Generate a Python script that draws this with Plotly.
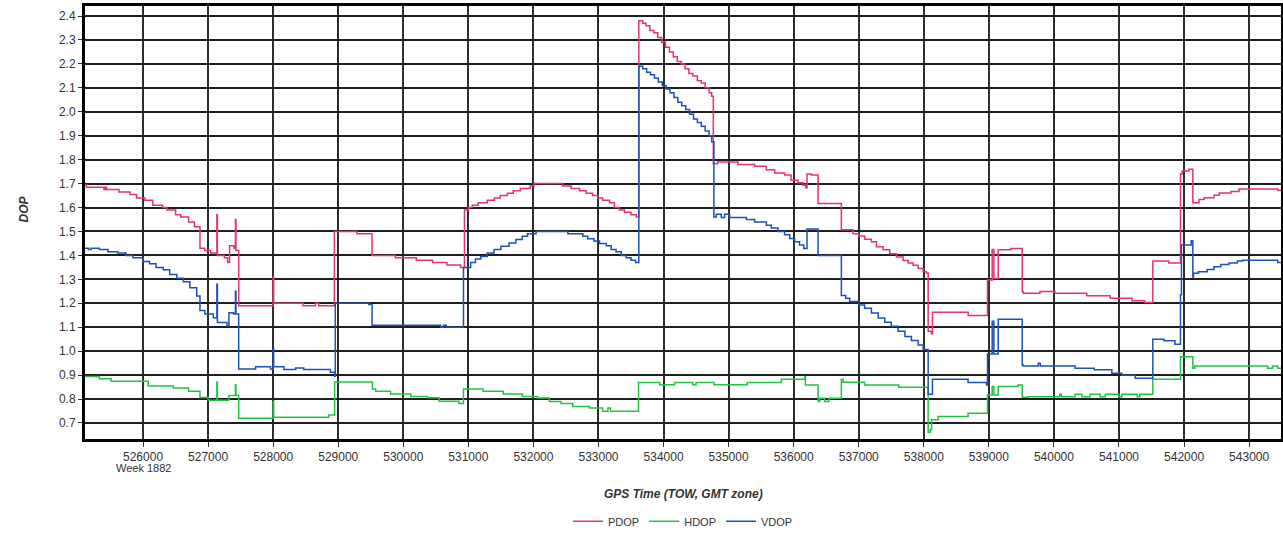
import plotly.graph_objects as go

# ---------------- data (GPS TOW seconds, DOP values; step series) ----------------
pdop_t = [525108, 525130, 525400, 525420, 525440, 525630, 525800, 525900, 526030, 526150,
          526300, 526370, 526500, 526580, 526700, 526790, 526875, 526950, 527040, 527135,
          527143, 527250, 527300, 527330, 527400, 527420, 527428, 527470, 528000, 528008,
          528460, 528650, 528700, 528940, 529290, 529520, 529880, 530200, 530450, 530670,
          530880, 530940, 531000, 531060, 531150, 531290, 531400, 531490, 531600, 531690,
          531800, 531950, 532010, 532450, 532580, 532710, 532810, 532910, 532990, 533065,
          533170, 533245, 533320, 533400, 533500, 533580, 533620, 533680, 533730, 533790,
          533850, 533910, 533970, 534030, 534090, 534150, 534210, 534270, 534330, 534390,
          534450, 534520, 534580, 534640, 534700, 534740, 534765, 534830, 535144, 535400,
          535580, 535708, 535860, 535960, 536067, 536144, 536185, 536205, 536272, 536375,
          536733, 536913, 537000, 537092, 537195, 537272, 537374, 537477, 537580, 537682,
          537760, 537836, 537913, 537990, 538040, 538067, 538118, 538133, 538682, 538979,
          539051, 539077, 539144, 539338, 539513, 539530, 539785, 540015, 540505, 540865,
          541200, 541395, 541520, 541765, 541945, 541970, 542075, 542135, 542230, 542310,
          542460, 542540, 542720, 542845, 543440, 543490]
pdop_v = [1.695, 1.685, 1.675, 1.685, 1.675, 1.665, 1.655, 1.64, 1.63, 1.61,
          1.60, 1.59, 1.57, 1.56, 1.54, 1.52, 1.43, 1.42, 1.41, 1.57,
          1.40, 1.39, 1.37, 1.44, 1.43, 1.55, 1.42, 1.19, 1.31, 1.20,
          1.19, 1.20, 1.19, 1.50, 1.49, 1.40, 1.39, 1.38, 1.37, 1.36,
          1.35, 1.59, 1.60, 1.61, 1.62, 1.63, 1.64, 1.65, 1.66, 1.67,
          1.68, 1.69, 1.70, 1.69, 1.68, 1.67, 1.66, 1.65, 1.64, 1.63,
          1.62, 1.60, 1.59, 1.58, 1.57, 1.56, 2.38, 2.37, 2.36, 2.34,
          2.33, 2.31, 2.29, 2.27, 2.25, 2.23, 2.21, 2.20, 2.18, 2.16,
          2.15, 2.13, 2.12, 2.10, 2.08, 2.065, 1.783, 1.79, 1.78, 1.772,
          1.758, 1.744, 1.736, 1.714, 1.704, 1.693, 1.683, 1.74, 1.736, 1.617,
          1.507, 1.49, 1.481, 1.467, 1.457, 1.436, 1.424, 1.407, 1.393, 1.379,
          1.368, 1.359, 1.345, 1.332, 1.327, 1.083, 1.073, 1.163, 1.149, 1.297,
          1.425, 1.304, 1.424, 1.429, 1.249, 1.242, 1.249, 1.242, 1.231, 1.221,
          1.211, 1.203, 1.377, 1.368, 1.74, 1.753, 1.76, 1.62, 1.634, 1.641,
          1.651, 1.661, 1.667, 1.677, 1.671, 1.671]

hdop_t = [525108, 525330, 525510, 526080, 526465, 526700, 526875, 527000, 527135, 527143,
          527320, 527420, 527428, 527470, 528000, 528008, 528855, 528945, 529525, 529575,
          529805, 530115, 530370, 530550, 530855, 530925, 531225, 531535, 531830, 532065,
          532245, 532425, 532605, 532860, 533065, 533145, 533185, 533615, 533940, 534170,
          534450, 534500, 534775, 535285, 535810, 536169, 536180, 536375, 536400, 536477,
          536540, 536733, 536760, 537090, 537615, 538067, 538100, 538120, 538220, 538680,
          538979, 539051, 539077, 539144, 539450, 539513, 539600, 540090, 540115, 540325,
          540430, 540555, 540710, 540790, 540995, 541045, 541280, 541320, 541520, 541945,
          542135, 542165, 543285, 543360, 543440, 543490]
hdop_v = [0.894, 0.885, 0.874, 0.854, 0.846, 0.833, 0.806, 0.795, 0.87, 0.795,
          0.815, 0.86, 0.815, 0.72, 0.79, 0.724, 0.733, 0.871, 0.842, 0.832,
          0.821, 0.811, 0.805, 0.791, 0.781, 0.842, 0.832, 0.821, 0.811, 0.804,
          0.79, 0.781, 0.769, 0.762, 0.749, 0.762, 0.749, 0.869, 0.86, 0.869,
          0.86, 0.869, 0.86, 0.869, 0.883, 0.894, 0.859, 0.79, 0.803, 0.79,
          0.803, 0.883, 0.87, 0.859, 0.849, 0.661, 0.672, 0.713, 0.727, 0.741,
          0.817, 0.852, 0.817, 0.852, 0.859, 0.807, 0.81, 0.82, 0.81, 0.82,
          0.81, 0.82, 0.81, 0.82, 0.81, 0.82, 0.81, 0.82, 0.883, 0.977,
          0.929, 0.938, 0.929, 0.938, 0.929, 0.929]

vdop_t = [525108, 525160, 525200, 525330, 525460, 525610, 525740, 525845, 526000, 526100,
          526200, 526310, 526410, 526520, 526620, 526720, 526825, 526875, 526950, 527080,
          527135, 527143, 527290, 527320, 527390, 527420, 527428, 527470, 527730, 527960,
          528000, 528008, 528165, 528345, 528470, 528880, 528945, 528955, 529470, 529520,
          530575, 530620, 530660, 530925, 531035, 531110, 531190, 531290, 531395, 531500,
          531625, 531730, 531830, 531910, 532040, 532530, 532760, 532835, 532930, 533015,
          533120, 533195, 533270, 533350, 533425, 533500, 533570, 533620, 533680, 533740,
          533800, 533860, 533920, 533980, 534040, 534100, 534160, 534220, 534280, 534340,
          534400, 534460, 534520, 534580, 534640, 534700, 534740, 534774, 534810, 534887,
          534938, 535015, 535272, 535400, 535580, 535656, 535760, 535860, 535940, 536015,
          536090, 536155, 536205, 536375, 536733, 536800, 536860, 537000, 537090, 537195,
          537300, 537400, 537500, 537605, 537710, 537810, 537913, 537990, 538067, 538133,
          538680, 538965, 538979, 539051, 539077, 539144, 539513, 539530, 539760, 539790,
          540325, 540620, 540890, 541045, 541250, 541520, 541690, 541860, 541945, 541960,
          542110, 542135, 542145, 542220, 542355, 542460, 542565, 542690, 542820, 542900,
          543440, 543490]
vdop_v = [1.43, 1.425, 1.43, 1.425, 1.415, 1.41, 1.40, 1.39, 1.375, 1.365,
          1.35, 1.34, 1.32, 1.305, 1.29, 1.265, 1.23, 1.17, 1.155, 1.14,
          1.28, 1.12, 1.105, 1.16, 1.155, 1.25, 1.155, 0.925, 0.935, 0.925,
          1.01, 0.935, 0.923, 0.93, 0.923, 0.912, 0.895, 1.20, 1.195, 1.108,
          1.10, 1.108, 1.10, 1.35, 1.37, 1.385, 1.395, 1.41, 1.425, 1.438,
          1.452, 1.466, 1.48, 1.49, 1.50, 1.49, 1.48, 1.47, 1.46, 1.45,
          1.44, 1.425, 1.415, 1.40, 1.39, 1.38, 1.37, 2.19, 2.18, 2.165,
          2.155, 2.14, 2.125, 2.11, 2.095, 2.08, 2.06, 2.04, 2.025, 2.01,
          1.99, 1.97, 1.955, 1.94, 1.92, 1.90, 1.875, 1.561, 1.572, 1.558,
          1.572, 1.558, 1.55, 1.54, 1.526, 1.514, 1.50, 1.486, 1.471, 1.457,
          1.443, 1.429, 1.51, 1.40, 1.232, 1.221, 1.207, 1.193, 1.179, 1.159,
          1.138, 1.121, 1.104, 1.083, 1.061, 1.044, 1.026, 1.007, 0.82, 0.883,
          0.869, 0.859, 0.988, 1.125, 0.988, 1.133, 0.942, 0.938, 0.949, 0.938,
          0.929, 0.922, 0.908, 0.899, 0.887, 1.05, 1.043, 1.029, 1.236, 1.443,
          1.461, 1.31, 1.325, 1.332, 1.341, 1.353, 1.362, 1.368, 1.377, 1.38,
          1.37, 1.37]

series = [("PDOP", pdop_t, pdop_v, "#e5336c"),
          ("HDOP", hdop_t, hdop_v, "#22c247"),
          ("VDOP", vdop_t, vdop_v, "#1b52b5")]

x_ticks = list(range(526000, 543001, 1000))
y_ticks = [round(0.7 + 0.1 * i, 1) for i in range(18)]

FONT = "Liberation Sans, Arial, sans-serif"

fig = go.Figure()
for name, t, v, c in series:
    fig.add_trace(go.Scatter(x=t, y=v, name=name, mode="lines",
                             line=dict(color=c, width=1.5, shape="hv")))

fig.update_layout(
    width=1283, height=533,
    margin=dict(l=85, r=2, t=6, b=94, autoexpand=False),
    paper_bgcolor="white", plot_bgcolor="white",
    font=dict(family=FONT, size=12, color="#333333"),
    showlegend=True,
    legend=dict(orientation="h", x=0.5, xanchor="center", y=-0.19, yanchor="middle",
                font=dict(size=11, color="#333333"), itemwidth=30,
                bgcolor="rgba(0,0,0,0)"),
)
fig.update_xaxes(range=[525108, 543490], tickvals=x_ticks, ticktext=[str(v) for v in x_ticks],
                 showgrid=True, gridcolor="#2e2e2e", gridwidth=1.6,
                 showline=True, linecolor="black", linewidth=3, mirror=True,
                 ticks="outside", ticklen=5, tickcolor="#333", tickwidth=1,
                 zeroline=False, tickfont=dict(size=12, color="#333333"))
fig.update_yaxes(range=[0.633, 2.442], tickvals=y_ticks, ticktext=[f"{v:.1f}" for v in y_ticks],
                 showgrid=True, gridcolor="#1e1e1e", gridwidth=1.6,
                 showline=True, linecolor="black", linewidth=3, mirror=True,
                 ticks="outside", ticklen=4, tickcolor="#333", tickwidth=1,
                 zeroline=False, tickfont=dict(size=12, color="#333333"))

fig.add_annotation(text="Week 1882", x=526000, xref="x", y=0, yref="paper",
                   yshift=-29, yanchor="middle", showarrow=False,
                   font=dict(size=11, color="#333333"))
fig.add_annotation(text="<b><i>GPS Time (TOW, GMT zone)</i></b>", x=0.5, xref="paper",
                   y=0, yref="paper", yshift=-55, yanchor="middle", showarrow=False,
                   font=dict(size=12, color="#333333"))
fig.add_annotation(text="<b><i>DOP</i></b>", x=0, xref="paper", xshift=-70,
                   y=0.53, yref="paper", textangle=-90, showarrow=False,
                   font=dict(size=12, color="#333333"))

fig.write_html("out.html", config={"displayModeBar": False},
               post_script="document.body.style.margin='0';document.body.style.overflow='hidden';")
